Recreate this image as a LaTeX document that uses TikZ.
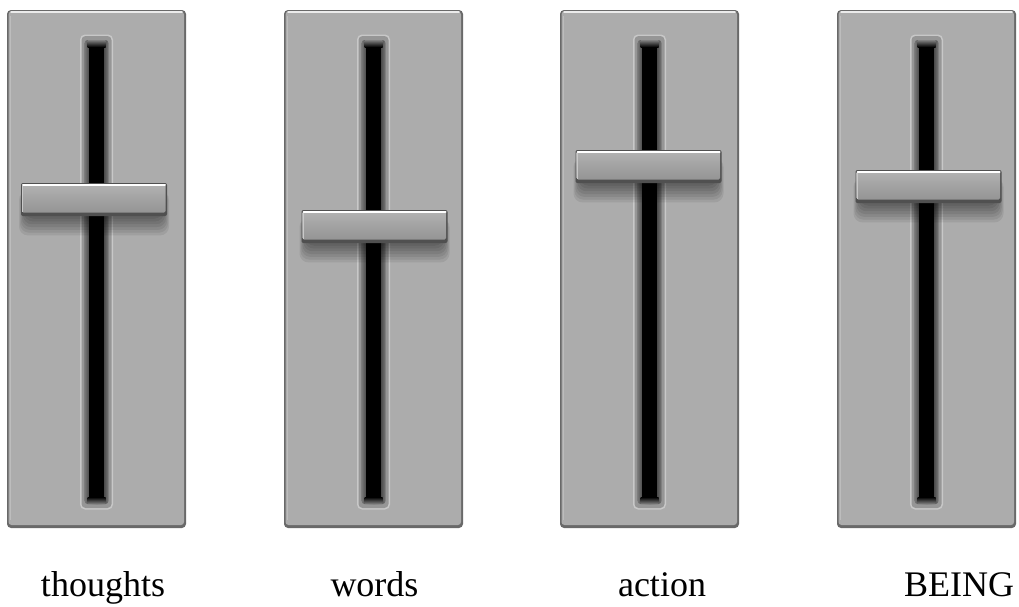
\documentclass[tikz,border=0pt]{standalone}
\usepackage{fontspec}
\setmainfont{Liberation Serif}
\definecolor{pnl}{RGB}{172,172,172}
\definecolor{pnledge}{RGB}{105,105,105}
\definecolor{pnlhi}{RGB}{235,235,235}
\definecolor{groove}{RGB}{150,150,150}
\definecolor{groovehi}{RGB}{200,200,200}
\definecolor{trackgray}{RGB}{120,120,120}
\definecolor{knobtop}{RGB}{178,178,178}
\definecolor{knobbot}{RGB}{148,148,148}
\definecolor{knobedge}{RGB}{80,80,80}
\tikzset{
  lab/.style={anchor=base, inner sep=0pt, font=\fontsize{36}{40}\selectfont},
}
\begin{document}
\begin{tikzpicture}[x=1pt,y=-1pt]
\useasboundingbox[fill=white] (0,0) rectangle (1019,606);
\foreach \px/\ky/\kc/\lx/\lab/\nm in {7/183/94/103/thoughts/a, 284/210/374.5/374.5/words/b, 560/150/648.5/662/action/c, 837/170/928.5/959/BEING/d} {
  \pgfmathsetmacro\cx{\px+89.5}
  % panel
  \fill[pnledge, rounded corners=4] (\px,10) rectangle ++(179,518);
  \fill[pnl, rounded corners=3] (\px+1.5,11.5) rectangle ++(175.5,513.5);
  \draw[pnlhi, line width=1.6, line cap=round] (\px+4,12.2) -- (\px+175,12.2);
  \draw[pnl!80!white, line width=0.8] (\px+3.5,16) -- (\px+3.5,520);
  % groove
  \fill[groovehi, rounded corners=5] (\cx-16.5,34.5) rectangle (\cx+16.5,509.5);
  \fill[groove, rounded corners=4] (\cx-15,36) rectangle (\cx+15,508);
  \shade[left color=trackgray, right color=trackgray, middle color=black, rounded corners=3]
     (\cx-12,40) rectangle (\cx+12,504);
  \fill[black] (\cx-7.5,46) rectangle (\cx+7.5,498);
  \shade[top color=trackgray, bottom color=black] (\cx-9,40.5) rectangle (\cx+9,47);
  \shade[top color=black, bottom color=trackgray] (\cx-9,497) rectangle (\cx+9,503.5);
  % knob shadow
  \foreach \i in {1,...,8} {
    \fill[black, opacity=0.075, rounded corners=9]
      (\kc-73+6-\i,\ky+8) rectangle (\kc+73-6+\i,\ky+30+2.8*\i);
  }
  % knob
  \fill[knobedge, rounded corners=2] (\kc-73,\ky) rectangle (\kc+73,\ky+33);
  \shade[top color=knobtop, bottom color=knobbot, rounded corners=1.5]
     (\kc-72,\ky+1) rectangle (\kc+71.5,\ky+29.5);
  \draw[white, line width=2, line cap=round] (\kc-71,\ky+1.8) -- (\kc+71,\ky+1.8);
  \draw[knobtop!70!white, line width=0.8] (\kc-71.5,\ky+3) -- (\kc-71.5,\ky+29);
  % label
  \node[lab] (\nm) at (\lx,596) {\lab};
}
\end{tikzpicture}
\end{document}
